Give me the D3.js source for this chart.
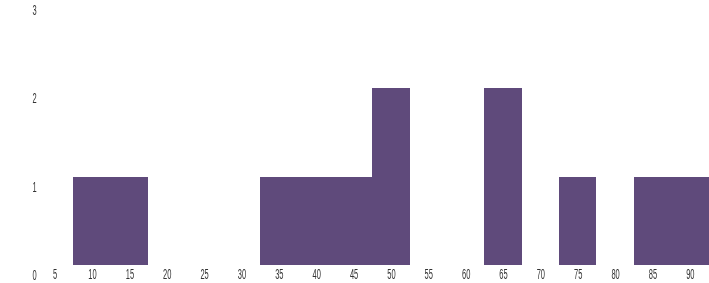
<!DOCTYPE html>
<html><head><meta charset="utf-8">
<script src="https://cdn.jsdelivr.net/npm/d3@7"></script>
<style>
html,body{margin:0;padding:0;background:#fff;}
text{font-family:"Liberation Sans",Arial,sans-serif;font-size:15px;fill:#333;}
.lbl{filter:grayscale(100%);}
</style></head>
<body>
<svg id="chart" width="709" height="283"></svg>
<script>
const binStarts = [7.5, 12.5, 32.5, 37.5, 42.5, 47.5, 62.5, 72.5, 82.5, 87.5];
const binCounts = [1, 1, 1, 1, 1, 2, 2, 1, 1, 1];
const binWidth = 5;
const xTicks = [5,10,15,20,25,30,35,40,45,50,55,60,65,70,75,80,85,90];
const yTicks = [0,1,2,3];

const svg = d3.select("#chart");
const x = d3.scaleLinear().domain([2.5, 92.5]).range([36, 708.5]);
const y = d3.scaleLinear().domain([0, 3]).range([265, 0]);

svg.append("g").selectAll("rect").data(binStarts).join("rect")
  .attr("x", d => x(d))
  .attr("width", d => x(d + binWidth) - x(d))
  .attr("y", (d,i) => y(binCounts[i]))
  .attr("height", (d,i) => y(0) - y(binCounts[i]))
  .attr("fill", "#5f4a7b")
  .attr("shape-rendering", "crispEdges");

const xAxis = d3.axisBottom(x).tickValues(xTicks).tickSize(0).tickPadding(0);
const gx = svg.append("g").attr("class", "lbl").attr("transform", "translate(0,278.5)").call(xAxis);
gx.attr("font-size", null).attr("font-family", null);
gx.select(".domain").remove();
gx.selectAll("text").attr("y", 0).attr("dy", null).attr("fill", null)
  .attr("transform", "scale(0.5,1)");

const gy = svg.append("g").attr("class", "lbl");
gy.selectAll("g").data(yTicks).join("g")
  .attr("transform", d => `translate(34.5,${y(d) + 15})`)
  .append("text").attr("text-anchor", "middle")
  .attr("transform", "scale(0.5,1)").text(d => d);
</script>
</body></html>
